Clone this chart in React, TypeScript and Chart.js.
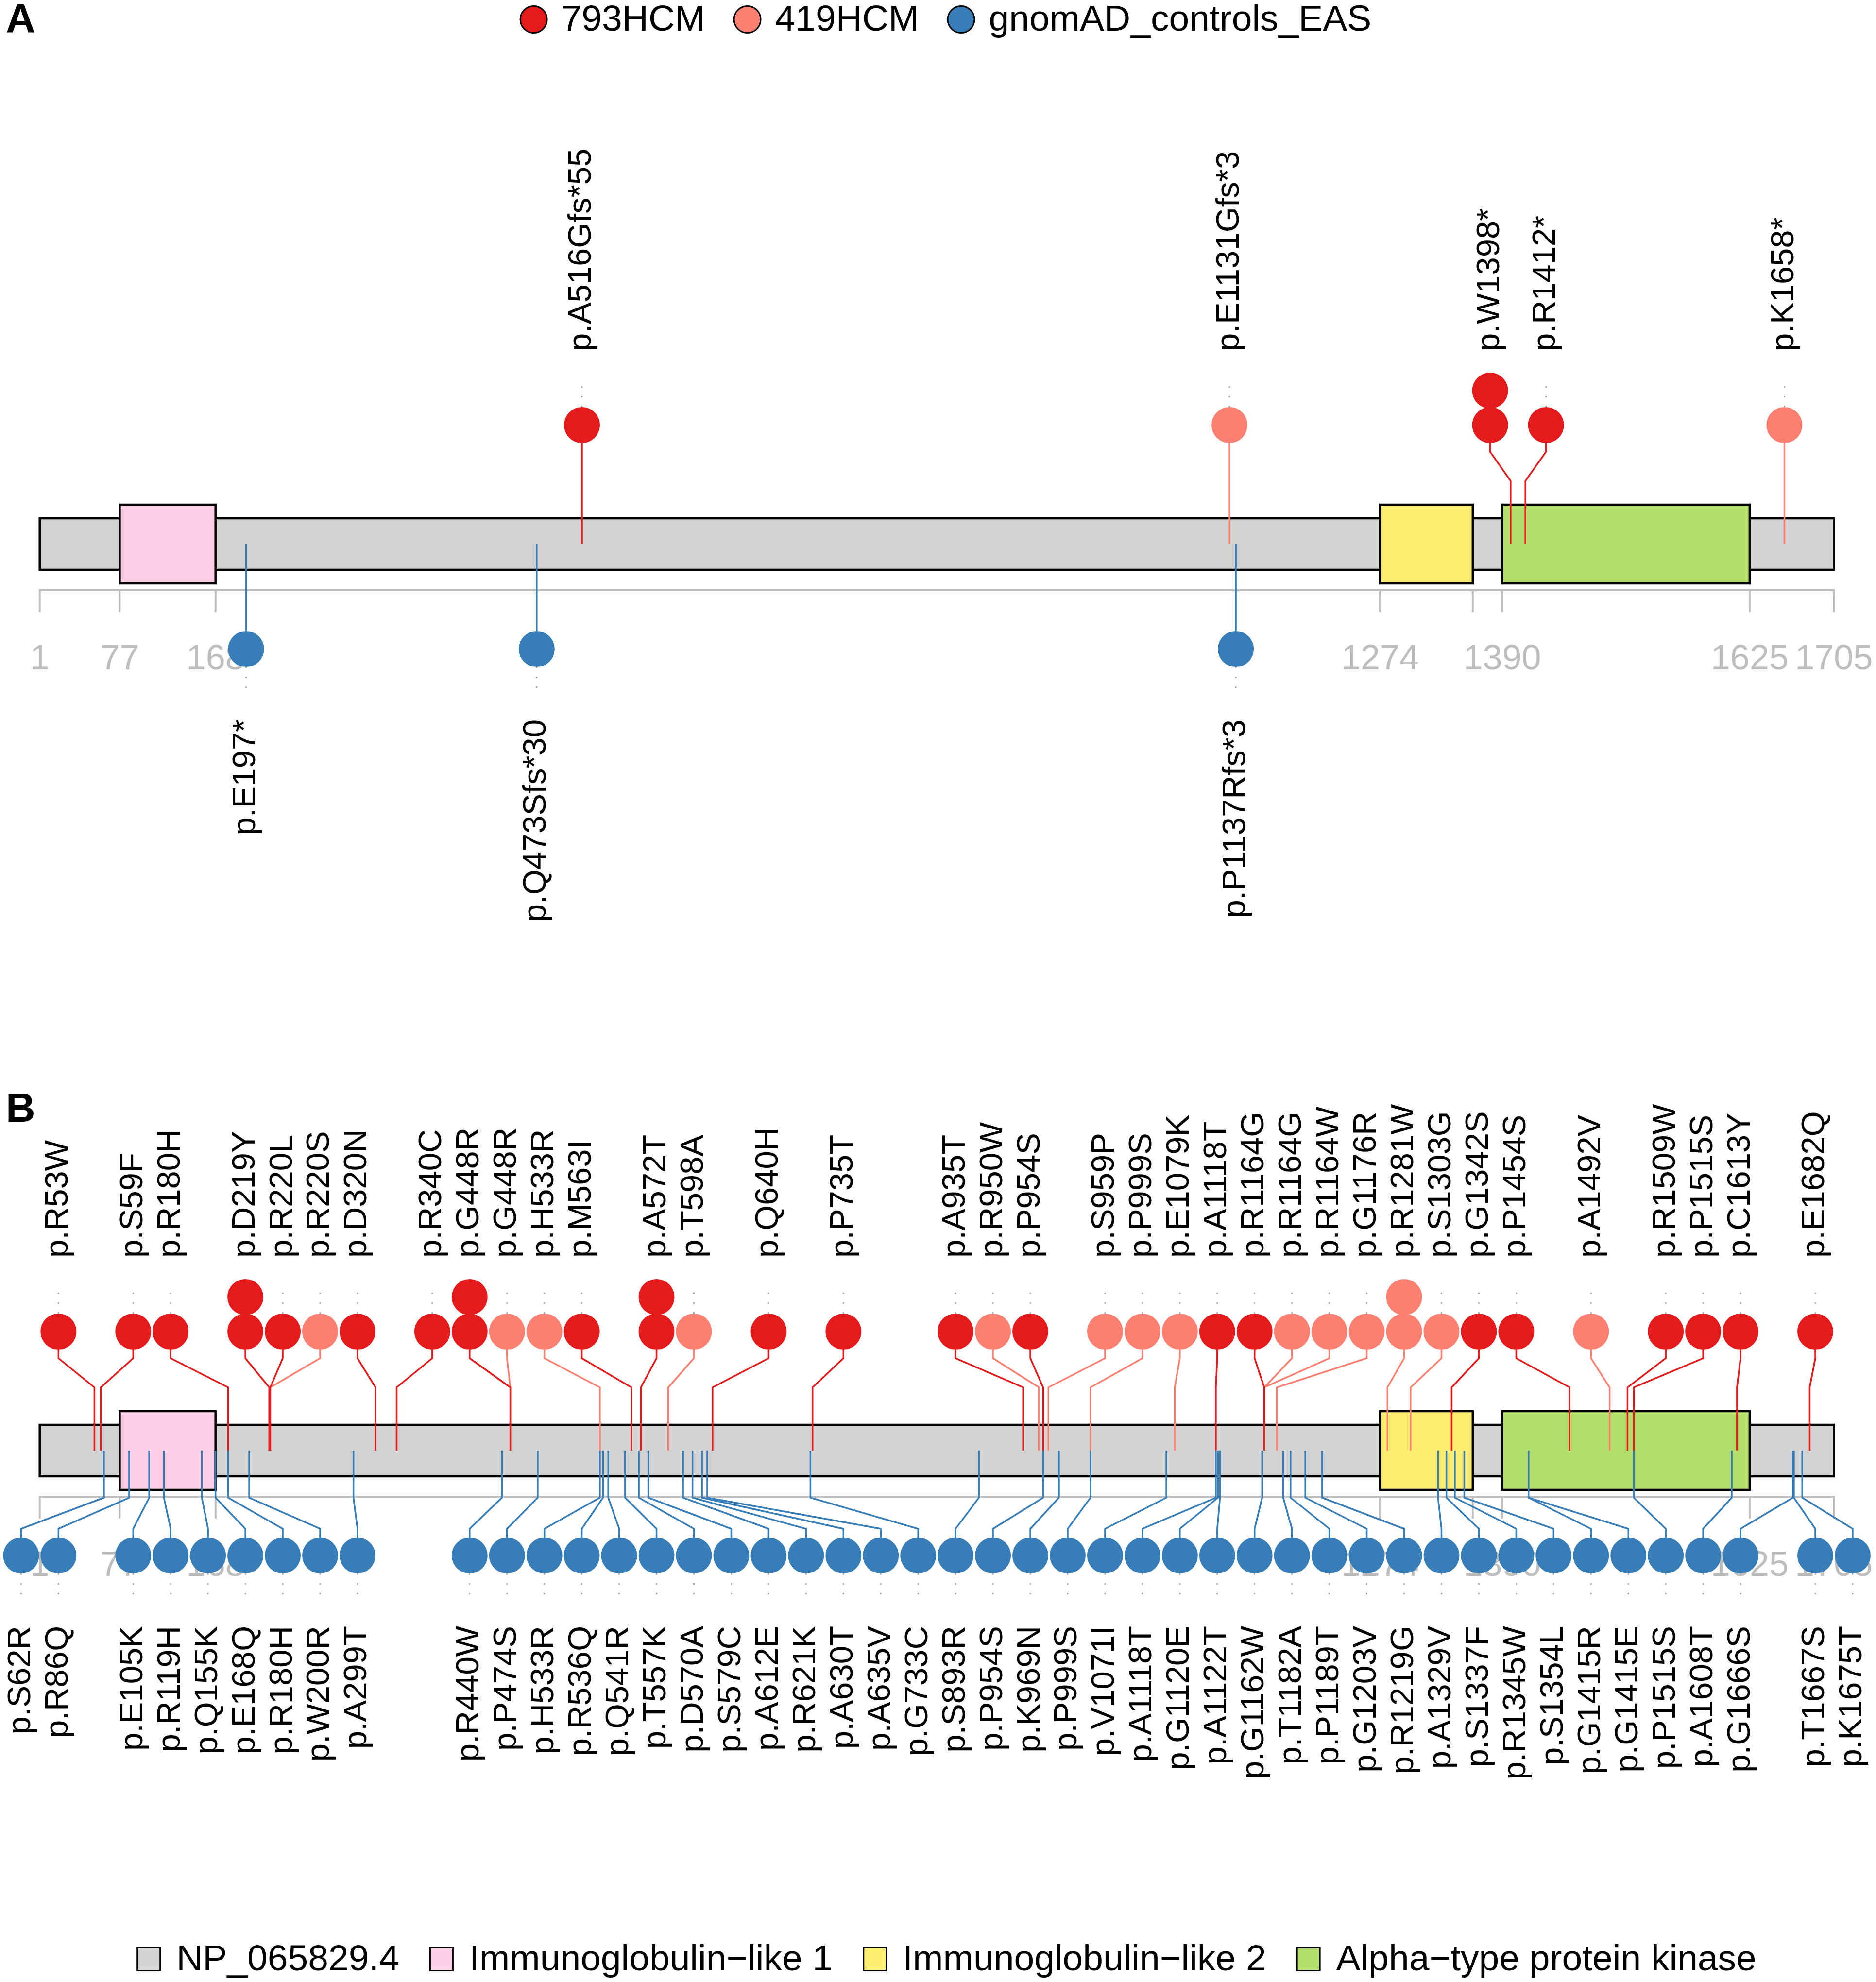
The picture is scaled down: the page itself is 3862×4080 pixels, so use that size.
import React, { useEffect, useRef } from "react";
import { Chart, registerables } from "chart.js";

Chart.register(...registerables);

const CANVAS_W = 3862;
const CANVAS_H = 4080;
const FONT = '"Liberation Sans", Arial, Helvetica, sans-serif';

// ---------- protein & domains ----------
const proteinName = "NP_065829.4";
const proteinFrom = 1;
const proteinTo = 1705;
const proteinColor = "#D3D3D3";
const domainNames = ["Immunoglobulin\u2212like 1", "Immunoglobulin\u2212like 2", "Alpha\u2212type protein kinase"];
const domainFrom = [77, 1274, 1390];
const domainTo = [168, 1362, 1625];
const domainColors = ["#FCCDE5", "#FFED6F", "#B3DE69"];
const tickValues = [1, 77, 168, 1274, 1362, 1390, 1625, 1705];
const tickLabels = ["1", "77", "168", "1274", "", "1390", "1625", "1705"];

// ---------- series ----------
const seriesNames = ["793HCM", "419HCM", "gnomAD_controls_EAS"];
const seriesColors = ["#E41A1C", "#FB8072", "#377EB8"];

// ---------- panel A ----------
const aUpLabels = ["p.A516Gfs*55", "p.E1131Gfs*3", "p.W1398*", "p.R1412*", "p.K1658*"];
const aUpPos = [516, 1131, 1398, 1412, 1658];
const aUpLabelPos = [516, 1131, 1378.5, 1431.6, 1658];
const aUpSeries = [0, 1, 0, 0, 1];
const aUpCount = [1, 1, 2, 1, 1];
const aDownLabels = ["p.E197*", "p.Q473Sfs*30", "p.P1137Rfs*3"];
const aDownPos = [197, 473, 1137];
const aDownLabelPos = [197, 473, 1137];

// ---------- panel B ----------
const bUpLabels = [
  "p.R53W", "p.S59F", "p.R180H", "p.D219Y", "p.R220L", "p.R220S", "p.D320N", "p.R340C", "p.G448R", "p.G448R",
  "p.H533R", "p.M563I", "p.A572T", "p.T598A", "p.Q640H", "p.P735T", "p.A935T", "p.R950W", "p.P954S", "p.S959P",
  "p.P999S", "p.E1079K", "p.A1118T", "p.R1164G", "p.R1164G", "p.R1164W", "p.G1176R", "p.R1281W", "p.S1303G", "p.G1342S",
  "p.P1454S", "p.A1492V", "p.R1509W", "p.P1515S", "p.C1613Y", "p.E1682Q",
];
const bUpPos = [
  53, 59, 180, 219, 220, 220, 320, 340, 448, 448,
  533, 563, 572, 598, 640, 735, 935, 950, 954, 959,
  999, 1079, 1118, 1164, 1164, 1164, 1176, 1281, 1303, 1342,
  1454, 1492, 1509, 1515, 1613, 1682,
];
const bUpSlot = [
  1, 3, 4, 6, 7, 8, 9, 11, 12, 13,
  14, 15, 17, 18, 20, 22, 25, 26, 27, 29,
  30, 31, 32, 33, 34, 35, 36, 37, 38, 39,
  40, 42, 44, 45, 46, 48,
];
const bUpSeries = [
  0, 0, 0, 0, 0, 1, 0, 0, 0, 1,
  1, 0, 0, 1, 0, 0, 0, 1, 0, 1,
  1, 1, 0, 0, 1, 1, 1, 1, 1, 0,
  0, 1, 0, 0, 0, 0,
];
const bUpCount = [
  1, 1, 1, 2, 1, 1, 1, 1, 2, 1,
  1, 1, 2, 1, 1, 1, 1, 1, 1, 1,
  1, 1, 1, 1, 1, 1, 1, 2, 1, 1,
  1, 1, 1, 1, 1, 1,
];
const bDownLabels = [
  "p.S62R", "p.R86Q", "p.E105K", "p.R119H", "p.Q155K", "p.E168Q", "p.R180H", "p.W200R", "p.A299T", "p.R440W",
  "p.P474S", "p.H533R", "p.R536Q", "p.Q541R", "p.T557K", "p.D570A", "p.S579C", "p.A612E", "p.R621K", "p.A630T",
  "p.A635V", "p.G733C", "p.S893R", "p.P954S", "p.K969N", "p.P999S", "p.V1071I", "p.A1118T", "p.G1120E", "p.A1122T",
  "p.G1162W", "p.T1182A", "p.P1189T", "p.G1203V", "p.R1219G", "p.A1329V", "p.S1337F", "p.R1345W", "p.S1354L", "p.G1415R",
  "p.G1415E", "p.P1515S", "p.A1608T", "p.G1666S", "p.T1667S", "p.K1675T",
];
const bDownPos = [
  62, 86, 105, 119, 155, 168, 180, 200, 299, 440,
  474, 533, 536, 541, 557, 570, 579, 612, 621, 630,
  635, 733, 893, 954, 969, 999, 1071, 1118, 1120, 1122,
  1162, 1182, 1189, 1203, 1219, 1329, 1337, 1345, 1354, 1415,
  1415, 1515, 1608, 1666, 1667, 1675,
];
const bDownSlot = [
  0, 1, 3, 4, 5, 6, 7, 8, 9, 12,
  13, 14, 15, 16, 17, 18, 19, 20, 21, 22,
  23, 24, 25, 26, 27, 28, 29, 30, 31, 32,
  33, 34, 35, 36, 37, 38, 39, 40, 41, 42,
  43, 44, 45, 46, 48, 49,
];

// ---------- layout (y in canvas units of the y scale; x in residues) ----------
const X_MIN = -36.69;
const X_MAX = 1745.0;
const SLOT_ORIGIN = -16.67;
const SLOT_STEP = 35.5;
const PANEL_MID = [1120, 2986];
const PANEL_TAGS = ["A", "B"];
const L = {
  barHalf: 53,
  domainHalf: 81,
  axisOffset: 95,
  tickLen: 45,
  tickLabelOffset: 143,
  upBend1: 130,
  upBend2: 190,
  upEdge: 208,
  upCircle: 245,
  stackStep: 71,
  upDotEnd: 342,
  upLabel: 397,
  downBend1: 97,
  downBend2: 161,
  downEdge: 179,
  downCircle: 216,
  downDotEnd: 312,
  downLabel: 361,
  radius: 37,
};
const AXIS_COLOR = "#BEBEBE";

type Pin = { label: string; pos: number; lx: number; series: number; count: number; up: boolean; mid: number };

function buildPins(): Pin[] {
  const pins: Pin[] = [];
  const slotX = (s: number) => SLOT_ORIGIN + s * SLOT_STEP;
  aUpLabels.forEach((label, i) =>
    pins.push({ label, pos: aUpPos[i], lx: aUpLabelPos[i], series: aUpSeries[i], count: aUpCount[i], up: true, mid: PANEL_MID[0] })
  );
  aDownLabels.forEach((label, i) =>
    pins.push({ label, pos: aDownPos[i], lx: aDownLabelPos[i], series: 2, count: 1, up: false, mid: PANEL_MID[0] })
  );
  bUpLabels.forEach((label, i) =>
    pins.push({ label, pos: bUpPos[i], lx: slotX(bUpSlot[i]), series: bUpSeries[i], count: bUpCount[i], up: true, mid: PANEL_MID[1] })
  );
  bDownLabels.forEach((label, i) =>
    pins.push({ label, pos: bDownPos[i], lx: slotX(bDownSlot[i]), series: 2, count: 1, up: false, mid: PANEL_MID[1] })
  );
  return pins;
}

function buildDatasets(pins: Pin[]) {
  const stems = seriesNames.map((name, s) => {
    const data: any[] = [];
    pins
      .filter((p) => p.series === s)
      .forEach((p) => {
        const d = p.up ? -1 : 1;
        const b1 = p.up ? L.upBend1 : L.downBend1;
        const b2 = p.up ? L.upBend2 : L.downBend2;
        const e = p.up ? L.upEdge : L.downEdge;
        data.push(
          { x: p.pos, y: p.mid },
          { x: p.pos, y: p.mid + d * b1 },
          { x: p.lx, y: p.mid + d * b2 },
          { x: p.lx, y: p.mid + d * e },
          { x: p.lx, y: null }
        );
      });
    return {
      label: name + " stems",
      data,
      showLine: true,
      spanGaps: false,
      borderColor: seriesColors[s],
      backgroundColor: seriesColors[s],
      borderWidth: 3.5,
      pointRadius: 0,
      pointHoverRadius: 0,
      fill: false,
      tension: 0,
      order: 2,
    };
  });

  const guideData: any[] = [];
  pins.forEach((p) => {
    if (p.up) {
      if (p.count > 1) return;
      guideData.push(
        { x: p.lx, y: p.mid - L.upCircle - L.radius },
        { x: p.lx, y: p.mid - L.upDotEnd },
        { x: p.lx, y: null }
      );
    } else {
      guideData.push(
        { x: p.lx, y: p.mid + L.downCircle + L.radius },
        { x: p.lx, y: p.mid + L.downDotEnd },
        { x: p.lx, y: null }
      );
    }
  });
  const guides = {
    label: "guides",
    data: guideData,
    showLine: true,
    spanGaps: false,
    borderColor: "#A8A8A8",
    borderWidth: 3,
    borderDash: [3, 17],
    pointRadius: 0,
    pointHoverRadius: 0,
    fill: false,
    order: 1,
  };

  const points = seriesNames.map((name, s) => {
    const data: any[] = [];
    pins
      .filter((p) => p.series === s)
      .forEach((p) => {
        for (let c = 0; c < p.count; c++) {
          data.push({ x: p.lx, y: p.up ? p.mid - L.upCircle - c * L.stackStep : p.mid + L.downCircle });
        }
      });
    return {
      label: name,
      data,
      showLine: false,
      pointRadius: L.radius,
      pointHoverRadius: L.radius,
      pointBackgroundColor: seriesColors[s],
      pointBorderColor: seriesColors[s],
      pointBorderWidth: 0,
      backgroundColor: seriesColors[s],
      borderColor: seriesColors[s],
      order: 0,
    };
  });

  return [...points, guides, ...stems];
}

const backdropPlugin = {
  id: "proteinBackdrop",
  beforeDatasetsDraw(chart: any) {
    const { ctx } = chart;
    const xs = chart.scales.x;
    const ys = chart.scales.y;
    PANEL_MID.forEach((mid) => {
      ctx.save();
      // axis
      const yAxis = ys.getPixelForValue(mid + L.axisOffset);
      const yTick = ys.getPixelForValue(mid + L.axisOffset + L.tickLen);
      ctx.strokeStyle = AXIS_COLOR;
      ctx.lineWidth = 4;
      ctx.lineCap = "butt";
      ctx.beginPath();
      ctx.moveTo(xs.getPixelForValue(proteinFrom) - 2, yAxis);
      ctx.lineTo(xs.getPixelForValue(proteinTo) + 2, yAxis);
      tickValues.forEach((t) => {
        const px = xs.getPixelForValue(t);
        ctx.moveTo(px, yAxis);
        ctx.lineTo(px, yTick);
      });
      ctx.stroke();
      ctx.fillStyle = AXIS_COLOR;
      ctx.font = `72px ${FONT}`;
      ctx.textAlign = "center";
      ctx.textBaseline = "middle";
      const yLab = ys.getPixelForValue(mid + L.axisOffset + L.tickLabelOffset);
      tickLabels.forEach((t, i) => {
        if (t) ctx.fillText(t, xs.getPixelForValue(tickValues[i]), yLab);
      });
      // protein bar and domains
      const rect = (from: number, to: number, half: number, color: string) => {
        const x0 = xs.getPixelForValue(from);
        const x1 = xs.getPixelForValue(to);
        const y0 = ys.getPixelForValue(mid - half);
        const y1 = ys.getPixelForValue(mid + half);
        ctx.fillStyle = color;
        ctx.fillRect(x0, y0, x1 - x0, y1 - y0);
        ctx.strokeStyle = "#000000";
        ctx.lineWidth = 4.5;
        ctx.lineJoin = "miter";
        ctx.strokeRect(x0, y0, x1 - x0, y1 - y0);
      };
      rect(proteinFrom, proteinTo, L.barHalf, proteinColor);
      domainNames.forEach((_, i) => rect(domainFrom[i], domainTo[i], L.domainHalf, domainColors[i]));
      ctx.restore();
    });
  },
};

function makeLabelPlugin(pins: Pin[]) {
  return {
    id: "mutationLabels",
    afterDatasetsDraw(chart: any) {
      const { ctx } = chart;
      const xs = chart.scales.x;
      const ys = chart.scales.y;
      ctx.save();
      ctx.fillStyle = "#000000";
      ctx.font = `67px ${FONT}`;
      ctx.textBaseline = "middle";
      pins.forEach((p) => {
        const px = xs.getPixelForValue(p.lx);
        const py = ys.getPixelForValue(p.up ? p.mid - L.upLabel : p.mid + L.downLabel);
        ctx.save();
        ctx.translate(px, py);
        ctx.rotate(-Math.PI / 2);
        ctx.textAlign = p.up ? "left" : "right";
        ctx.fillText(p.label, 0, 0);
        ctx.restore();
      });
      ctx.restore();
    },
  };
}

const legendPlugin = {
  id: "customLegends",
  afterDraw(chart: any) {
    const { ctx } = chart;
    const W = chart.width;
    ctx.save();
    ctx.font = `75px ${FONT}`;
    ctx.textBaseline = "middle";
    ctx.textAlign = "left";
    const CENTER_TO_TEXT = 57;
    const TEXT_TO_NEXT = 87;
    const drawLegend = (names: string[], colors: string[], yc: number, shape: "circle" | "square") => {
      const widths = names.map((n) => ctx.measureText(n).width);
      const span = widths.reduce((a, w) => a + CENTER_TO_TEXT + w, 0) + TEXT_TO_NEXT * (names.length - 1);
      let cx = W / 2 + 30 - span / 2;
      names.forEach((n, i) => {
        ctx.fillStyle = colors[i];
        ctx.strokeStyle = "#000000";
        ctx.lineWidth = 3;
        ctx.beginPath();
        if (shape === "circle") {
          ctx.arc(cx, yc, 27.5, 0, Math.PI * 2);
        } else {
          ctx.rect(cx - 23.5, yc - 23.5, 47, 47);
        }
        ctx.fill();
        ctx.stroke();
        ctx.fillStyle = "#000000";
        ctx.fillText(n, cx + CENTER_TO_TEXT, yc + 2);
        cx += CENTER_TO_TEXT + widths[i] + TEXT_TO_NEXT;
      });
    };
    drawLegend(seriesNames, seriesColors, 40, "circle");
    drawLegend([proteinName, ...domainNames], [proteinColor, ...domainColors], 4033, "square");

    // panel tags
    ctx.font = `bold 84px ${FONT}`;
    ctx.fillStyle = "#000000";
    ctx.textBaseline = "middle";
    const ys = chart.scales.y;
    const tagY = [44, 2286];
    PANEL_TAGS.forEach((t, i) => ctx.fillText(t, 12, ys.getPixelForValue(tagY[i])));
    ctx.restore();
  },
};

export default function App() {
  const ref = useRef<HTMLCanvasElement | null>(null);
  useEffect(() => {
    if (!ref.current) return;
    const pins = buildPins();
    const chart = new Chart(ref.current, {
      type: "scatter",
      data: { datasets: buildDatasets(pins) as any },
      options: {
        responsive: false,
        maintainAspectRatio: false,
        devicePixelRatio: 1,
        animation: false,
        events: [],
        layout: { padding: 0, autoPadding: false },
        scales: {
          x: { type: "linear", min: X_MIN, max: X_MAX, bounds: "data", display: false },
          y: { type: "linear", min: 0, max: CANVAS_H, bounds: "data", reverse: true, display: false },
        },
        plugins: {
          legend: { display: false },
          tooltip: { enabled: false },
          title: { display: false },
        },
      } as any,
      plugins: [backdropPlugin, makeLabelPlugin(pins), legendPlugin],
    });
    return () => chart.destroy();
  }, []);
  return (
    <div style={{ position: "absolute", left: 0, top: 0, width: CANVAS_W, height: CANVAS_H, background: "#ffffff" }}>
      <canvas ref={ref} width={CANVAS_W} height={CANVAS_H} style={{ display: "block", width: CANVAS_W, height: CANVAS_H }} />
    </div>
  );
}
